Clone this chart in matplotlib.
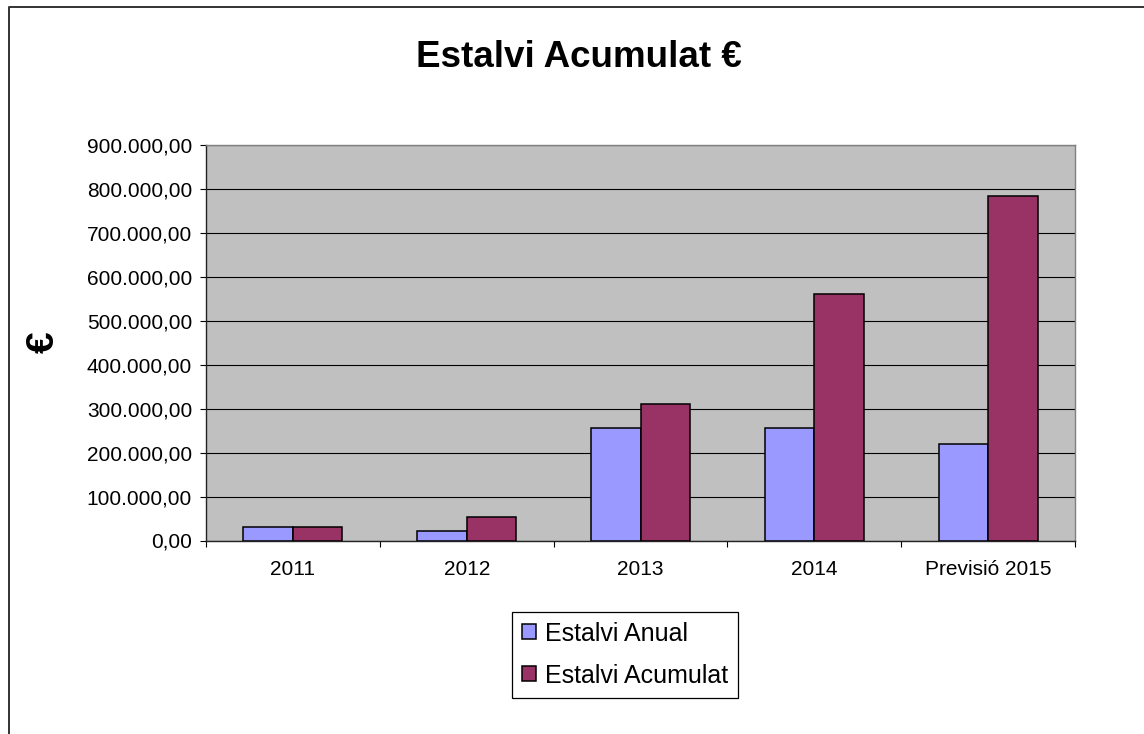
import matplotlib
matplotlib.use("Agg")
import matplotlib.pyplot as plt
import numpy as np
from matplotlib.lines import Line2D
from matplotlib.ticker import FuncFormatter, FixedLocator

# data
categories = ["2011", "2012", "2013", "2014", "Previsió 2015"]
estalvi_anual = [31500, 22000, 255500, 255500, 219500]
estalvi_acumulat = [31500, 53000, 309500, 560500, 784500]
series_names = ["Estalvi Anual", "Estalvi Acumulat"]
y_ticks = [0, 100000, 200000, 300000, 400000, 500000, 600000, 700000, 800000, 900000]

plt.rcParams["font.family"] = ["Liberation Sans", "DejaVu Sans"]

fig = plt.figure(figsize=(11.44, 7.34), dpi=100)
ax = fig.add_axes([206 / 1144, 1 - 540.5 / 734, 869 / 1144, 395.5 / 734])
ax.set_facecolor("#C0C0C0")

x = np.arange(len(categories))
w = 0.285
ax.bar(x - w / 2, estalvi_anual, w, color="#9999FF", edgecolor="black",
       linewidth=1.1, label=series_names[0], zorder=3)
ax.bar(x + w / 2, estalvi_acumulat, w, color="#993366", edgecolor="black",
       linewidth=1.1, label=series_names[1], zorder=3)

ax.set_xlim(-0.5, len(categories) - 0.5)
ax.set_ylim(0, 900000)

# y axis
ax.yaxis.set_major_locator(FixedLocator(y_ticks))
ax.yaxis.set_major_formatter(FuncFormatter(
    lambda v, p: "{:,.2f}".format(v).replace(",", "X").replace(".", ",").replace("X", ".")))
ax.tick_params(axis="y", direction="out", length=4, width=0.8, pad=6,
               labelsize=15, colors="black")
ax.grid(axis="y", color="black", linewidth=0.8, zorder=1)

# x axis: ticks between categories, labels centred
ax.set_xticks(np.arange(-0.5, len(categories)), labels=[""] * (len(categories) + 1))
ax.set_xticks(x, labels=categories, minor=True)
ax.tick_params(axis="x", which="major", direction="out", length=4, width=0.8)
ax.tick_params(axis="x", which="minor", length=0, pad=14, labelsize=15)

for s in ["left", "bottom"]:
    ax.spines[s].set_color("#222222")
    ax.spines[s].set_linewidth(1.0)
for s in ["top", "right"]:
    ax.spines[s].set_color("#808080")
    ax.spines[s].set_linewidth(1.0)

fig.text(579 / 1144, 1 - 66.7 / 734, "Estalvi Acumulat €", ha="center",
         va="baseline", fontsize=26.5, fontweight="bold")
fig.text(44 / 1144, 1 - 342.5 / 734, "€", rotation=90, ha="center",
         va="center", fontsize=28, fontweight="bold")

leg = fig.legend(loc="center", bbox_to_anchor=(625 / 1144, 1 - 654.7 / 734),
                 fontsize=18, frameon=True, fancybox=False, framealpha=1,
                 edgecolor="black", handlelength=0.56, handleheight=0.56,
                 handletextpad=0.38, labelspacing=0.72, borderpad=0.4)
leg.get_frame().set_linewidth(0.9)

# outer chart border (left and top visible)
bx = 8.5 / 1144
by = 1 - 6.5 / 734
fig.add_artist(Line2D([bx, bx, 1.0], [0.0, by, by], transform=fig.transFigure,
                      color="#333333", linewidth=1.4))

fig.savefig("out.png", dpi=100)
